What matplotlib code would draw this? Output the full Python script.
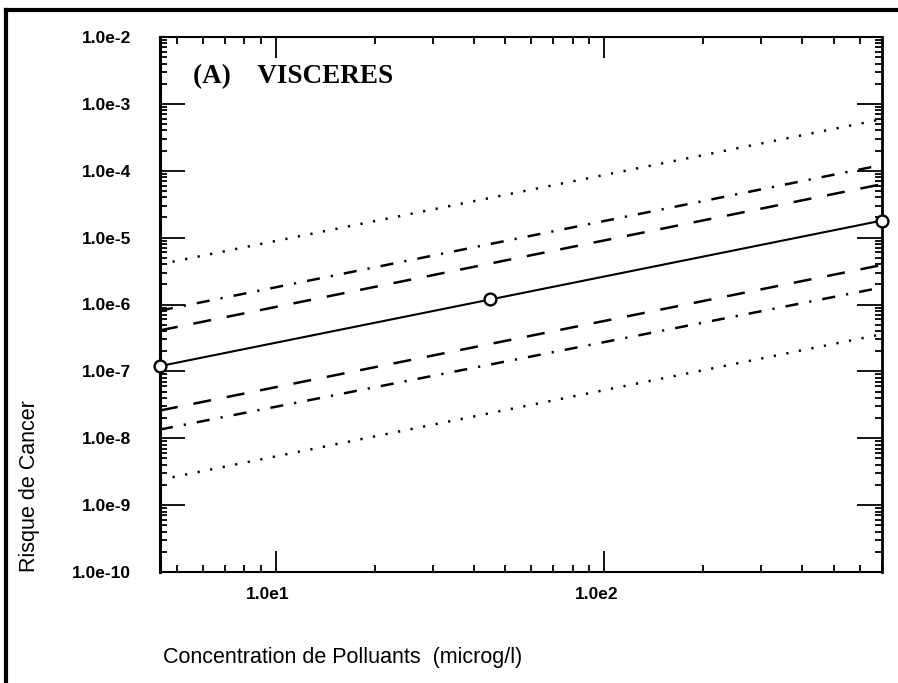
import matplotlib
matplotlib.use("Agg")
import matplotlib.pyplot as plt
import matplotlib.transforms as mtransforms
from matplotlib.lines import Line2D
from matplotlib.ticker import LogLocator, FixedLocator, FuncFormatter, NullFormatter
import numpy as np

# concentrations (microg/l) and computed risk, the three circled points
conc = [4.44, 45.0, 700.0]
risque = [1.2e-7, 1.19e-6, 1.8e-5]

# confidence bands, read at both ends of the concentration range
conc_ends = [4.44, 700.0]
haut_dot = [4.0e-6, 5.9e-4]
haut_dashdot = [8.1e-7, 1.22e-4]
haut_dash = [4.1e-7, 6.3e-5]
bas_dash = [2.6e-8, 3.9e-6]
bas_dashdot = [1.35e-8, 1.8e-6]
bas_dot = [2.4e-9, 3.6e-7]

y_ticks = [1e-10, 1e-9, 1e-8, 1e-7, 1e-6, 1e-5, 1e-4, 1e-3, 1e-2]
x_ticks = [10, 100]
x_tick_labels = ["1.0e1", "1.0e2"]

plt.rcParams['lines.scale_dashes'] = False
sans = 'Liberation Sans'

W, H = 898, 683
fig = plt.figure(figsize=(W / 100, H / 100), dpi=100)
ax = fig.add_axes([160 / W, 1 - 572 / H, 722 / W, 535 / H])

# dash patterns in points
dash = (0, (13, 11.5))
dashdot = (0, (9.4, 8, 1.6, 8))
dotted = (0, (1.6, 7.6))

ax.plot(conc, risque, color='black', lw=1.5, solid_capstyle='butt')
ax.plot(conc, risque, 'o', mfc='white', mec='black', ms=8.5, mew=1.7,
        clip_on=False, zorder=5)
for vals, ls in [(haut_dot, dotted), (haut_dashdot, dashdot), (haut_dash, dash),
                 (bas_dash, dash), (bas_dashdot, dashdot), (bas_dot, dotted)]:
    ax.plot(conc_ends, vals, color='black', lw=1.8, linestyle=ls)

ax.set_xscale('log')
ax.set_yscale('log')
ax.set_xlim(conc[0], conc[-1])
ax.set_ylim(y_ticks[0], y_ticks[-1])

ax.yaxis.set_major_locator(FixedLocator(y_ticks))
ax.yaxis.set_major_formatter(FuncFormatter(lambda v, p: "1.0e%d" % round(np.log10(v))))
ax.yaxis.set_minor_locator(LogLocator(base=10, subs=range(2, 10), numticks=100))
ax.yaxis.set_minor_formatter(NullFormatter())
ax.xaxis.set_major_locator(FixedLocator(x_ticks))
ax.set_xticklabels(x_tick_labels)
ax.xaxis.set_minor_locator(LogLocator(base=10, subs=range(2, 10), numticks=100))
ax.xaxis.set_minor_formatter(NullFormatter())

ax.tick_params(which='both', direction='in', top=True, right=True, width=1.3)
ax.tick_params(axis='y', which='major', length=18, pad=21)
ax.tick_params(axis='x', which='major', length=15, pad=11)
ax.tick_params(which='minor', length=5)
for lab in ax.get_xticklabels() + ax.get_yticklabels():
    lab.set_fontfamily(sans)
    lab.set_fontweight('bold')
    lab.set_fontsize(12.5)
shift = mtransforms.ScaledTranslation(-8 / 100, 0, fig.dpi_scale_trans)
for lab in ax.get_xticklabels():
    lab.set_transform(lab.get_transform() + shift)

for s in ax.spines.values():
    s.set_linewidth(1.5)
ax.spines['left'].set_linewidth(2.2)
ax.spines['right'].set_linewidth(2.0)

ax.text(0.0457, 0.914, "(A)    VISCERES", transform=ax.transAxes,
        family='Liberation Serif', weight='bold', fontsize=19.5, va='baseline')

fig.text(163 / W, 1 - 663 / H, "Concentration de Polluants  (microg/l)",
         family=sans, fontsize=15.5, ha='left', va='baseline')
fig.text(30 / W, 1 - 572 / H, "Risque de Cancer", family=sans, fontsize=15.5,
         rotation=90, ha='center', va='bottom')

# scanned page frame, top and left edges
fig.add_artist(Line2D([6 / W, 1], [1 - 10 / H, 1 - 10 / H], color='black', lw=3))
fig.add_artist(Line2D([6 / W, 6 / W], [0, 1 - 10 / H], color='black', lw=3))

fig.savefig('out.png', dpi=100)
